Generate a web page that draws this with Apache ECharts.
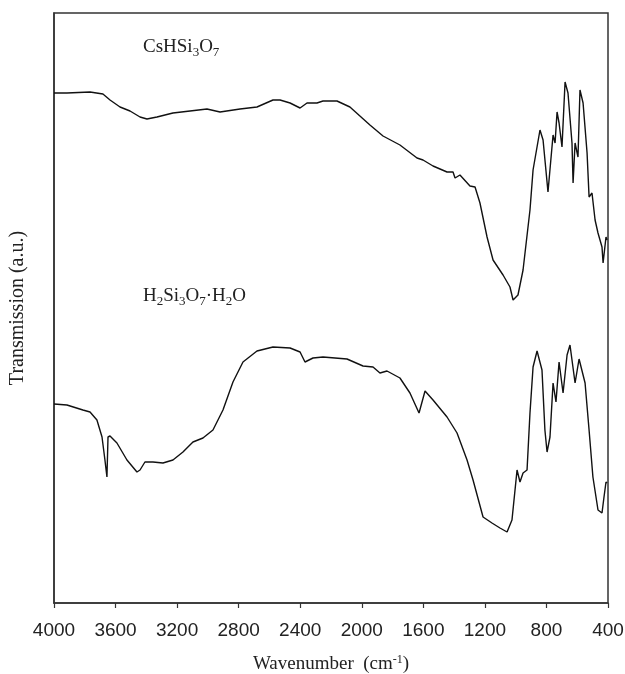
<!DOCTYPE html>
<html>
<head>
<meta charset="utf-8">
<script src="https://cdn.jsdelivr.net/npm/echarts@6/dist/echarts.min.js"></script>
<style>
html,body{margin:0;padding:0;background:#fff;}
#chart{width:625px;height:674px;}
</style>
</head>
<body>
<div id="chart"></div>
<script>
// Wavenumber (cm-1) and transmission (arbitrary units) for CsHSi3O7
const csWavenumber = [4000,3916,3766,3682,3636,3571,3506,3441,3396,3331,3227,3116,3006,2921,2791,2681,2577,2531,2466,2401,2356,2291,2252,2161,2077,1947,1862,1752,1641,1602,1537,1446,1407,1394,1362,1297,1264,1232,1186,1147,1082,1037,1017,985,952,907,887,842,822,790,764,757,744,731,718,699,679,660,634,627,614,595,582,562,536,523,504,484,465,439,432,413,406];
const csValues = [510,510,511,509,503,496,492,486,484,486,490,492,494,491,494,496,503,503,500,495,500,500,502,502,496,478,467,458,445,443,437,431,431,425,428,417,416,400,366,343,328,316,303,308,333,393,433,473,463,411,456,468,460,491,480,456,521,510,460,420,460,446,513,500,450,406,410,383,370,356,340,366,363];

// Wavenumber (cm-1) and transmission (arbitrary units) for H2Si3O7·H2O
const hWavenumber = [4000,3916,3812,3766,3721,3688,3669,3656,3649,3636,3591,3526,3461,3441,3409,3357,3292,3227,3162,3097,3032,2967,2902,2837,2772,2681,2577,2466,2401,2369,2317,2252,2096,1992,1927,1882,1836,1752,1687,1628,1589,1537,1446,1381,1316,1277,1212,1154,1102,1056,1024,991,972,952,926,907,887,861,829,810,796,777,757,738,718,692,666,647,614,588,549,523,498,465,439,426,413,406];
const hValues = [199,198,193,191,183,166,143,126,166,167,160,143,131,133,141,141,140,143,151,161,165,173,193,221,241,252,256,255,251,241,245,246,244,237,236,230,232,225,210,190,212,203,186,170,143,123,86,80,75,71,83,133,121,130,133,190,236,252,233,173,151,166,220,201,241,210,248,258,220,244,220,173,126,93,90,106,121,120];

const xTicks = [4000,3600,3200,2800,2400,2000,1600,1200,800,400];

const pair = (xs, ys) => xs.map((x, i) => [x, ys[i]]);

const chart = echarts.init(document.getElementById('chart'), null, {renderer: 'canvas'});
const serif = '"Liberation Serif", "DejaVu Serif", serif';
const sans = '"Liberation Sans", Arial, sans-serif';

chart.setOption({
  animation: false,
  backgroundColor: '#ffffff',
  grid: {
    left: 54, right: 17, top: 13, bottom: 71,
    outerBoundsMode: 'none',
    containLabel: false,
    show: true, borderColor: '#333', borderWidth: 1.5, backgroundColor: 'transparent'
  },
  xAxis: {
    type: 'value',
    inverse: true,
    min: 400, max: 4000, interval: 400,
    axisLine: {show: true, lineStyle: {color: '#333', width: 1.5}},
    axisTick: {show: true, length: 5, inside: false, lineStyle: {color: '#333', width: 1.2}},
    axisLabel: {
      show: true, margin: 18, color: '#222', fontFamily: sans, fontSize: 19,
      formatter: v => xTicks.includes(v) ? String(v) : ''
    },
    splitLine: {show: false},
    name: '{n|Wavenumber  (cm}{sup|-1}{n|)}',
    nameLocation: 'middle',
    nameGap: 51,
    nameTextStyle: {
      fontFamily: serif, fontSize: 19, color: '#222',
      rich: {
        n: {fontFamily: serif, fontSize: 19, color: '#222'},
        sup: {fontFamily: serif, fontSize: 12, color: '#222', verticalAlign: 'top', padding: [0,0,8,0]}
      }
    }
  },
  yAxis: {
    type: 'value',
    min: 0, max: 590,
    axisLine: {show: true, lineStyle: {color: '#333', width: 1.5}},
    axisTick: {show: false},
    axisLabel: {show: false},
    splitLine: {show: false},
    name: 'Transmission (a.u.)',
    nameLocation: 'middle',
    nameGap: 26,
    nameTextStyle: {fontFamily: serif, fontSize: 20, color: '#222'}
  },
  series: [
    {
      name: 'CsHSi3O7', type: 'line', showSymbol: false, smooth: false,
      lineStyle: {color: '#111', width: 1.4},
      data: pair(csWavenumber, csValues)
    },
    {
      name: 'H2Si3O7·H2O', type: 'line', showSymbol: false, smooth: false,
      lineStyle: {color: '#111', width: 1.4},
      data: pair(hWavenumber, hValues)
    }
  ],
  graphic: [
    {
      type: 'text', left: 143, top: 38,
      style: {
        text: '{n|CsHSi}{s|3}{n|O}{s|7}',
        rich: {
          n: {fontFamily: serif, fontSize: 19, fill: '#222', lineHeight: 24},
          s: {fontFamily: serif, fontSize: 13, fill: '#222', lineHeight: 24, verticalAlign: 'bottom', padding: [6,0,0,0]}
        }
      }
    },
    {
      type: 'text', left: 143, top: 287,
      style: {
        text: '{n|H}{s|2}{n|Si}{s|3}{n|O}{s|7}{n|·H}{s|2}{n|O}',
        rich: {
          n: {fontFamily: serif, fontSize: 19, fill: '#222', lineHeight: 24},
          s: {fontFamily: serif, fontSize: 13, fill: '#222', lineHeight: 24, verticalAlign: 'bottom', padding: [6,0,0,0]}
        }
      }
    }
  ]
});
</script>
</body>
</html>
